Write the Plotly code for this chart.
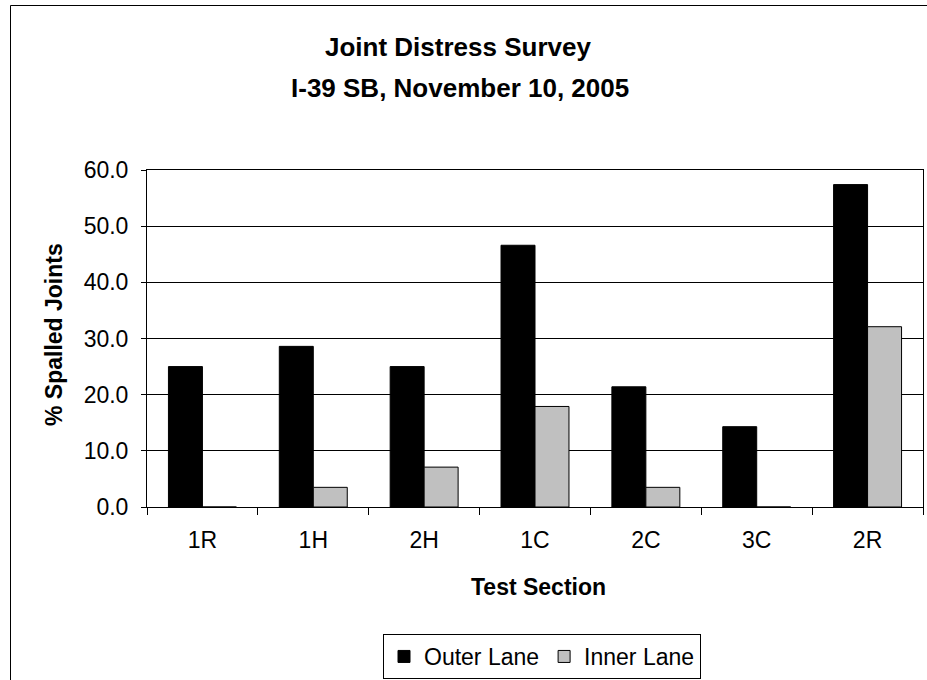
import plotly.graph_objects as go

categories = ["1R", "1H", "2H", "1C", "2C", "3C", "2R"]
outer_lane = [25.0, 28.6, 25.0, 46.6, 21.4, 14.3, 57.4]
inner_lane = [0.0, 3.5, 7.1, 17.9, 3.5, 0.0, 32.1]
y_ticks = [0, 10, 20, 30, 40, 50, 60]

W, H = 927, 680
L, R, T, B = 147, 4, 170, 173
pw = W - L - R
ph = H - T - B

FONT = "Liberation Sans, Arial, sans-serif"

fig = go.Figure()
fig.add_trace(go.Bar(name="Outer Lane", x=categories, y=outer_lane,
                     marker=dict(color="#000000", line=dict(color="#000000", width=1))))
fig.add_trace(go.Bar(name="Inner Lane", x=categories, y=inner_lane,
                     marker=dict(color="#C0C0C0", line=dict(color="#000000", width=1))))

def px_x(x):
    return (x - L) / pw

def px_y(y):
    return (H - B - y) / ph

fig.update_layout(
    width=W, height=H,
    margin=dict(l=L, r=R, t=T, b=B, autoexpand=False),
    paper_bgcolor="white", plot_bgcolor="white",
    barmode="group", bargap=0.387, bargroupgap=0,
    font=dict(family=FONT, size=23, color="black"),
    showlegend=True,
    legend=dict(orientation="h", x=px_x(542), xanchor="center",
                y=px_y(634), yanchor="top",
                bordercolor="black", borderwidth=1,
                font=dict(size=23), itemwidth=30, tracegroupgap=0),
    xaxis=dict(type="category", showline=True, linecolor="black", linewidth=1,
               mirror=True, ticks="outside", ticklen=7, tickcolor="black",
               tickson="boundaries", showgrid=False, ticklabelstandoff=12,
               tickfont=dict(size=23)),
    yaxis=dict(range=[0, 60], tickvals=y_ticks, tickformat=".1f",
               showline=True, linecolor="black", linewidth=1, mirror=True,
               ticks="outside", ticklen=5, tickcolor="black",
               showgrid=True, gridcolor="black", gridwidth=1,
               ticklabelstandoff=8,
               zeroline=False, tickfont=dict(size=23)),
)

annots = [
    dict(text="<b>Joint Distress Survey</b>", x=px_x(458), y=px_y(47),
         font=dict(size=26)),
    dict(text="<b>I-39 SB, November 10, 2005</b>", x=px_x(460), y=px_y(88),
         font=dict(size=26)),
    dict(text="<b>Test Section</b>", x=px_x(538), y=px_y(587),
         font=dict(size=23)),
    dict(text="<b>% Spalled Joints</b>", x=px_x(54), y=px_y(335),
         font=dict(size=23), textangle=-90),
]
for a in annots:
    fig.add_annotation(xref="paper", yref="paper", showarrow=False,
                       xanchor="center", yanchor="middle", **a)

fig.add_shape(type="rect", xref="paper", yref="paper",
              x0=px_x(10.5), y0=-2, x1=3, y1=px_y(5.5),
              line=dict(color="black", width=1), fillcolor="rgba(0,0,0,0)",
              layer="below")

fig.write_html("out.html",
               config={"displayModeBar": False},
               post_script="document.body.style.margin='0';document.body.style.overflow='hidden';")
